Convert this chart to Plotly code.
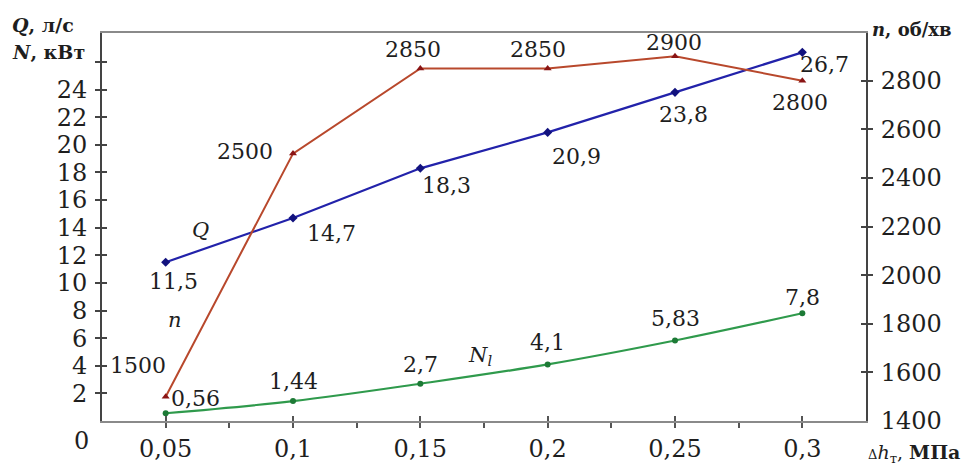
import plotly.graph_objects as go

# ---- data ----
dh = [0.05, 0.1, 0.15, 0.2, 0.25, 0.3]          # Δh_т, МПа
Q = [11.5, 14.7, 18.3, 20.9, 23.8, 26.7]         # л/с
n = [1500, 2500, 2850, 2850, 2900, 2800]         # об/хв
N1 = [0.56, 1.44, 2.7, 4.1, 5.83, 7.8]           # кВт

Q_text = ["11,5", "14,7", "18,3", "20,9", "23,8", "26,7"]
n_text = ["1500", "2500", "2850", "2850", "2900", "2800"]
N1_text = ["0,56", "1,44", "2,7", "4,1", "5,83", "7,8"]

x_tickvals = [0.05, 0.1, 0.15, 0.2, 0.25, 0.3]
x_ticktext = ["0,05", "0,1", "0,15", "0,2", "0,25", "0,3"]
x_alltick = [0.025, 0.05, 0.075, 0.1, 0.125, 0.15, 0.175, 0.2, 0.225, 0.25, 0.275, 0.3, 0.325]
yl_tickvals = [0, 2, 4, 6, 8, 10, 12, 14, 16, 18, 20, 22, 24, 26]
yl_ticktext = ["", "2", "4", "6", "8", "10", "12", "14", "16", "18", "20", "22", "24", ""]
yr_tickvals = [1400, 1600, 1800, 2000, 2200, 2400, 2600, 2800]
yr_ticktext = ["1400", "1600", "1800", "2000", "2200", "2400", "2600", "2800"]

# ---- styles ----
FONT = "DejaVu Serif"
TXT = "#1e1e1e"
C_Q, C_QM = "#2222aa", "#12127e"
C_N, C_NM = "#b8482c", "#8a1414"
C_G, C_GM = "#2f9a4c", "#1d7a36"
XR = [0.025, 0.325]
YL = [0, 28.1]
YR = [1400, 2996]

# page has an 8px body margin: figure is sized / placed to compensate
W, H = 965, 457
ML, MR, MT, MB = 94, 107, 25, 44
PW, PH = W - ML - MR, H - MT - MB


def px(xp):   # page-x pixel -> paper fraction
    return (xp - 8 - ML) / PW


def py(yp):   # page-y pixel -> paper fraction
    return (H - MB - (yp - 8)) / PH


# label offsets in px (dx right, dy up)
Q_off = [(8, -19), (38, -15), (26, -17), (29, -24), (8, -22), (22, -12)]
n_off = [(-28, 31), (-48, 2), (-7, 19), (-10, 19), (-1, 14), (-2, -22)]
N1_off = [(30, 15), (0, 20), (0, 19), (0, 22), (0, 22), (0, 16)]

fig = go.Figure()
fig.add_trace(go.Scatter(x=dh, y=n, mode="lines+markers", yaxis="y2",
                         line=dict(color=C_N, width=2),
                         marker=dict(symbol="triangle-up", size=7, color=C_NM),
                         hoverinfo="skip", showlegend=False))
fig.add_trace(go.Scatter(x=dh, y=Q, mode="lines+markers",
                         line=dict(color=C_Q, width=2.2),
                         marker=dict(symbol="diamond", size=7, color=C_QM),
                         hoverinfo="skip", showlegend=False))
fig.add_trace(go.Scatter(x=dh, y=N1, mode="lines+markers",
                         line=dict(color=C_G, width=2.2, shape="spline"),
                         marker=dict(symbol="circle", size=6, color=C_GM),
                         hoverinfo="skip", showlegend=False))

ann = []


def labels(xs, ys, texts, offs, yref):
    for xv, yv, t, (dx, dy) in zip(xs, ys, texts, offs):
        ann.append(dict(x=xv, y=yv, xref="x", yref=yref, text=t, showarrow=False,
                        xshift=dx, yshift=dy, xanchor="center", yanchor="middle",
                        font=dict(family=FONT, size=22, color=TXT)))


labels(dh, Q, Q_text, Q_off, "y")
labels(dh, n, n_text, n_off, "y2")
labels(dh, N1, N1_text, N1_off, "y")

# curve names
for t, xv, yv in [("<i>Q</i>", 0.0635, 13.8), ("<i>n</i>", 0.0537, 7.3),
                  ("<i>N<sub>l</sub></i>", 0.1734, 4.7)]:
    ann.append(dict(x=xv, y=yv, xref="x", yref="y", text=t, showarrow=False,
                    font=dict(family=FONT, size=21, color=TXT)))

# axis titles
ann += [
    dict(x=px(10), y=py(25), xref="paper", yref="paper", xanchor="left", yanchor="middle",
         text="<b><i>Q</i>, л/с</b>", showarrow=False, font=dict(family=FONT, size=19, color=TXT)),
    dict(x=px(10), y=py(52), xref="paper", yref="paper", xanchor="left", yanchor="middle",
         text="<b><i>N</i>, кВт</b>", showarrow=False, font=dict(family=FONT, size=19, color=TXT)),
    dict(x=px(870), y=py(29), xref="paper", yref="paper", xanchor="left", yanchor="middle",
         text="<b><i>n</i>, об/хв</b>", showarrow=False, font=dict(family=FONT, size=18, color=TXT)),
    dict(x=px(866), y=py(454), xref="paper", yref="paper", xanchor="left", yanchor="middle",
         text="<span style='font-size:13px'>Δ</span><i>h</i><sub>т</sub>, <b>МПа</b>", showarrow=False,
         font=dict(family=FONT, size=19, color=TXT)),
    dict(x=px(81), y=py(441), xref="paper", yref="paper", xanchor="center", yanchor="middle",
         text="0", showarrow=False, font=dict(family=FONT, size=24, color=TXT)),
]

EPS_X, EPS_L, EPS_R = 1e-6, 1e-4, 0.01
tickfont = dict(family=FONT, size=24, color=TXT)
fig.update_layout(
    width=W, height=H,
    margin=dict(l=ML, r=MR, t=MT, b=MB, autoexpand=False),
    paper_bgcolor="white", plot_bgcolor="white",
    showlegend=False,
    annotations=ann,
    xaxis=dict(range=XR, tickvals=x_tickvals, ticktext=x_ticktext, tickfont=tickfont,
               automargin=False,
               showgrid=False, zeroline=False, showline=True, linecolor="#8a8a8a", linewidth=2,
               mirror=True, ticks="inside", ticklen=5, tickwidth=1.5, tickcolor="#555",
               ticklabelstandoff=5,
               minor=dict(tickvals=[v + EPS_X for v in x_alltick],
                          ticks="outside", ticklen=5, tickwidth=1.5, tickcolor="#555",
                          showgrid=False)),
    yaxis=dict(range=YL, tickvals=yl_tickvals, ticktext=yl_ticktext, tickfont=tickfont,
               automargin=False,
               showgrid=False, zeroline=False, showline=True, linecolor="#444", linewidth=2,
               ticks="inside", ticklen=5, tickwidth=1.5, tickcolor="#444",
               ticklabelstandoff=8,
               minor=dict(tickvals=[v + EPS_L for v in yl_tickvals],
                          ticks="outside", ticklen=5, tickwidth=1.5, tickcolor="#444",
                          showgrid=False)),
    yaxis2=dict(range=YR, tickvals=yr_tickvals, ticktext=yr_ticktext, tickfont=tickfont,
                overlaying="y", side="right", anchor="x", automargin=False,
                showgrid=False, zeroline=False, showline=True, linecolor="#444", linewidth=2,
                ticks="inside", ticklen=5, tickwidth=1.5, tickcolor="#444",
                ticklabelstandoff=8,
                minor=dict(tickvals=[v + EPS_R for v in yr_tickvals],
                           ticks="outside", ticklen=5, tickwidth=1.5, tickcolor="#444",
                           showgrid=False)),
)

fig.write_html("out.html")
